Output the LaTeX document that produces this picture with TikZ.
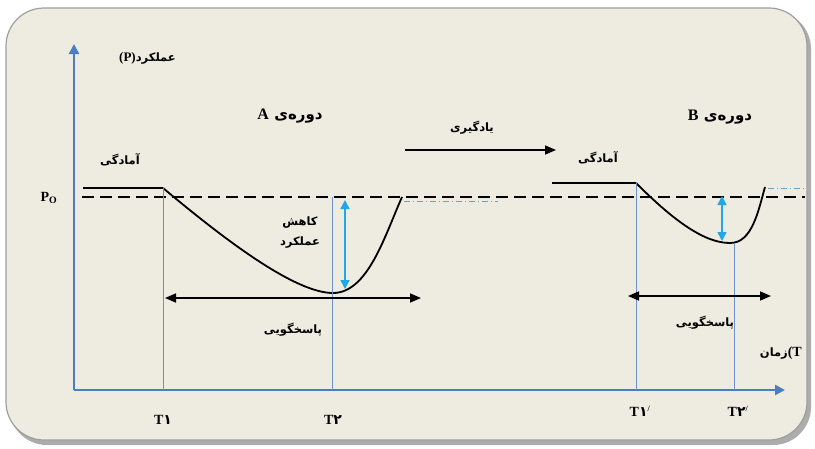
\documentclass[tikz,border=0pt]{standalone}
\usepackage{fontspec}
\usetikzlibrary{arrows.meta}
\setmainfont{Liberation Serif}
\newfontfamily\fa[Script=Arabic]{DejaVu Sans}
\TeXXeTstate=1
\definecolor{bgc}{HTML}{EEEBE1}
\definecolor{axisblue}{HTML}{4A7EBF}
\definecolor{lineblue}{HTML}{6A94C8}
\definecolor{cyanarr}{HTML}{1EA8E6}
\tikzset{
  fatxt/.style={font=\fa\bfseries\fontsize{11.5}{14}\selectfont, inner sep=1pt},
  latxt/.style={font=\bfseries\fontsize{14}{16}\selectfont, inner sep=1pt},
  period/.style={font=\fa\bfseries\fontsize{15}{18}\selectfont, inner sep=1pt},
  axisline/.style={axisblue, line width=2.4pt, -{Triangle[length=10pt,width=10pt]}},
  tline/.style={lineblue, line width=0.9pt},
  baseline/.style={black, line width=1.6pt},
  dashline/.style={black, line width=1.5pt, dash pattern=on 12pt off 6pt},
  dropcurve/.style={black, line width=1.8pt},
  droparr/.style={cyanarr, line width=1.6pt, {Triangle[length=9pt,width=9pt]}-{Triangle[length=9pt,width=9pt]}},
  resparr/.style={black, line width=1.6pt, {Triangle[length=11pt,width=9pt]}-{Triangle[length=11pt,width=9pt]}},
  learnarr/.style={black, line width=1.6pt, -{Triangle[length=11pt,width=9pt]}},
  faint/.style={gray!60!cyan, line width=1pt, dash pattern=on 6pt off 3pt on 1pt off 3pt}
}
\begin{document}
\begin{tikzpicture}[x=1pt,y=-1pt]
\useasboundingbox (0,0) rectangle (815,448);
\fill[white] (0,0) rectangle (815,448);
% frame
\fill[gray!65, rounded corners=38pt] (9,11) rectangle (811,445);
\filldraw[fill=bgc, draw=gray!75, line width=1.2pt, rounded corners=38pt] (6,8) rectangle (807,440);

% axes
\coordinate (O) at (74,390);
\coordinate (ytop) at (74,44);
\coordinate (xend) at (785,390);
\draw[axisline] (O) -- (ytop);
\draw[axisline] (O) -- (xend);

% reference dashed line
\coordinate (d1) at (82,197);
\coordinate (d2) at (805,197);
\draw[dashline] (d1) -- (d2);

% ---- period A
\coordinate (a0) at (83,188);
\coordinate (a1) at (163,188);
\coordinate (amin) at (333,293);
\coordinate (aend) at (402,197);
\draw[baseline] (a0) -- (a1);
\draw[dropcurve] (a1) .. controls (225,240) and (295,293) .. (amin) .. controls (368,293) and (385,235) .. (aend);
\coordinate (aT1) at (163,390);
\coordinate (aT2t) at (332,197);
\coordinate (aT2) at (332,390);
\draw[tline] (a1) -- (aT1);
\draw[tline] (aT2t) -- (aT2);
\coordinate (ca1) at (345,200);
\coordinate (ca2) at (345,289);
\draw[droparr] (ca1) -- (ca2);
\coordinate (fa1) at (404,201);
\coordinate (fa2) at (498,201);
\draw[faint] (fa1) -- (fa2);
\coordinate (ra1) at (165,298);
\coordinate (ra2) at (421,298);
\draw[resparr] (ra1) -- (ra2);

% ---- learning arrow
\coordinate (l1) at (405,150);
\coordinate (l2) at (556,150);
\draw[learnarr] (l1) -- (l2);

% ---- period B
\coordinate (b0) at (552,183);
\coordinate (b1) at (636,183);
\coordinate (bmin) at (730,243);
\coordinate (bend) at (765,187);
\draw[baseline] (b0) -- (b1);
\draw[dropcurve] (b1) .. controls (675,222) and (705,243) .. (bmin) .. controls (752,243) and (758,212) .. (bend);
\coordinate (bT1) at (636,390);
\coordinate (bT2t) at (734,243);
\coordinate (bT2) at (734,390);
\draw[tline] (b1) -- (bT1);
\draw[tline] (bT2t) -- (bT2);
\coordinate (cb1) at (722,196);
\coordinate (cb2) at (722,241);
\draw[droparr] (cb1) -- (cb2);
\coordinate (fb1) at (768,188);
\coordinate (fb2) at (805,188);
\draw[faint] (fb1) -- (fb2);
\coordinate (rb1) at (628,296);
\coordinate (rb2) at (771,296);
\draw[resparr] (rb1) -- (rb2);

% ---- texts
\node[fatxt, anchor=west] (ylab) at (118,58) {{\rmfamily\bfseries\fontsize{13}{15}\selectfont (P)}\beginR عملکرد\endR};
\node[latxt] (po) at (49,198) {P\textsubscript{O}};
\node[period] (perA) at (290,116) {{\rmfamily\bfseries\fontsize{16}{18}\selectfont A}\ \beginR دوره‌ی\endR};
\node[fatxt] (readyA) at (120,160) {\beginR آمادگی\endR};
\node[fatxt] (drop1) at (300,223) {\beginR کاهش\endR};
\node[fatxt] (drop2) at (300,243) {\beginR عملکرد\endR};
\node[fatxt] (respA) at (293,330) {\beginR پاسخگویی\endR};
\node[fatxt] (learn) at (472,128) {\beginR یادگیری\endR};
\node[period] (perB) at (720,117) {{\rmfamily\bfseries\fontsize{16}{18}\selectfont B}\ \beginR دوره‌ی\endR};
\node[fatxt] (readyB) at (598,158) {\beginR آمادگی\endR};
\node[fatxt] (respB) at (705,323) {\beginR پاسخگویی\endR};
\node[fatxt, anchor=east] (xlab) at (803,353) {\beginR زمان\endR{\rmfamily\bfseries\fontsize{14}{16}\selectfont(T}};
\node[latxt] (t1) at (163,420) {T{\fa ۱}};
\node[latxt] (t2) at (333,420) {T{\fa ۲}};
\node[latxt] (t1p) at (640,411) {T{\fa ۱}\textsuperscript{\fontsize{8}{8}\selectfont /}};
\node[latxt] (t2p) at (738,411) {T{\fa ۲}\textsuperscript{\fontsize{8}{8}\selectfont /}};
\end{tikzpicture}
\end{document}
